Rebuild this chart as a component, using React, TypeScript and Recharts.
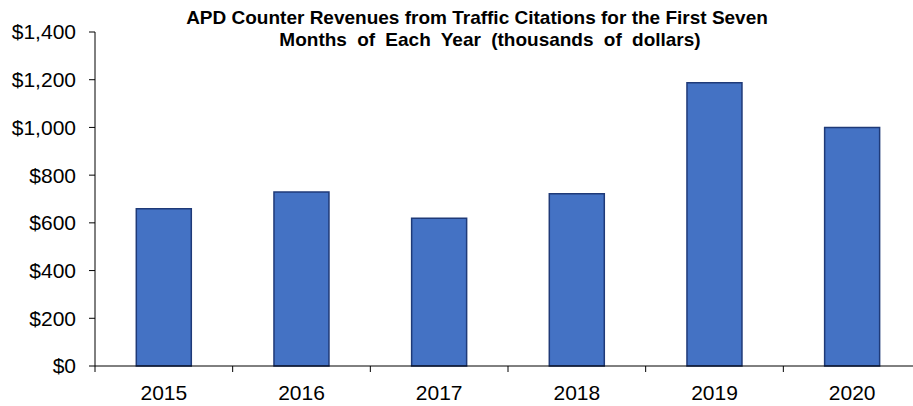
import React from "react";
import { BarChart, Bar, XAxis, YAxis } from "recharts";

const years = ["2015", "2016", "2017", "2018", "2019", "2020"];
const revenue = [659, 729, 619, 722, 1187, 1000];
const yTicks = [0, 200, 400, 600, 800, 1000, 1200, 1400];

const data = years.map((year, i) => ({ year, revenue: revenue[i] }));

const FONT = "'Liberation Sans', Arial, sans-serif";
const CHART_W = 930;
const CHART_H = 406;
const Y_AXIS_W = 95;
const RIGHT = 9;
const BAND = (CHART_W - Y_AXIS_W - RIGHT) / years.length;
const X_LABEL_GAP = 19;

function YearTick(props: any) {
  const { x, y, payload } = props;
  const axisY = y - X_LABEL_GAP;
  return (
    <g>
      <line x1={x - BAND / 2} x2={x - BAND / 2} y1={axisY} y2={axisY + 6} stroke="#000" strokeWidth={1} />
      <text x={x} y={y} dy="0.71em" textAnchor="middle" fontSize={21} fontFamily={FONT} fill="#000">
        {payload.value}
      </text>
    </g>
  );
}

const titleLine: React.CSSProperties = {
  position: "absolute",
  left: 0,
  textAlign: "center",
  fontFamily: FONT,
  fontWeight: "bold",
  fontSize: 19,
  lineHeight: "22px",
  color: "#000",
  whiteSpace: "nowrap",
};

export default function App() {
  return (
    <div
      style={{
        position: "absolute",
        left: 0,
        top: 0,
        width: 913,
        height: 406,
        overflow: "hidden",
        background: "#fff",
      }}
    >
      <div style={{ ...titleLine, top: 7, width: 954 }}>
        APD Counter Revenues from Traffic Citations for the First Seven
      </div>
      <div style={{ ...titleLine, top: 29, width: 980, wordSpacing: 5 }}>
        Months of Each Year (thousands of dollars)
      </div>
      <BarChart
        width={CHART_W}
        height={CHART_H}
        data={data}
        margin={{ top: 32, right: RIGHT, left: 0, bottom: 0 }}
        barCategoryGap="30%"
      >
        <XAxis
          dataKey="year"
          height={40}
          axisLine={{ stroke: "#000", strokeWidth: 1 }}
          tickLine={false}
          tickSize={0}
          tickMargin={X_LABEL_GAP}
          tick={<YearTick />}
          interval={0}
        />
        <YAxis
          width={Y_AXIS_W}
          domain={[0, 1400]}
          ticks={yTicks}
          interval={0}
          axisLine={{ stroke: "#000", strokeWidth: 1 }}
          tickLine={{ stroke: "#000", strokeWidth: 1 }}
          tickSize={6}
          tickMargin={13}
          tick={{ fontSize: 21, fontFamily: FONT, fill: "#000" }}
          tickFormatter={(v: number) => "$" + v.toLocaleString("en-US")}
        />
        <Bar
          dataKey="revenue"
          fill="#4472C4"
          stroke="#1F3A78"
          strokeWidth={1.5}
          isAnimationActive={false}
        />
      </BarChart>
    </div>
  );
}
